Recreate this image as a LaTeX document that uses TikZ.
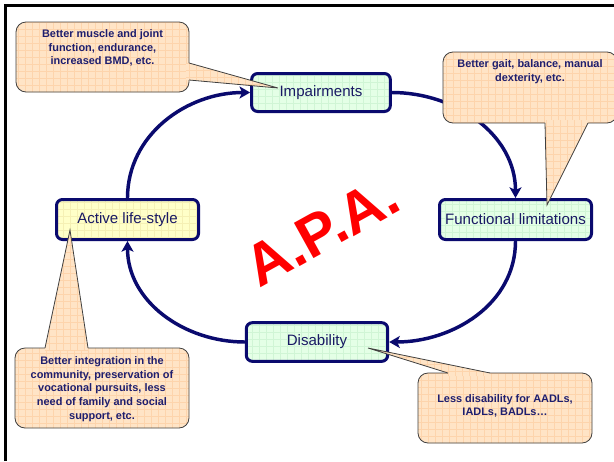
\documentclass[tikz,border=0pt]{standalone}
\usepackage{fontspec}
\setmainfont{Liberation Sans}
\usetikzlibrary{arrows.meta}

\definecolor{boxline}{RGB}{10,10,110}
\definecolor{boxtext}{RGB}{25,25,100}
\definecolor{mint}{RGB}{228,255,230}
\definecolor{mintgrid}{RGB}{208,245,213}
\definecolor{cream}{RGB}{255,255,200}
\definecolor{creamgrid}{RGB}{245,240,180}
\definecolor{peach}{RGB}{255,228,198}
\definecolor{peachgrid}{RGB}{253,212,172}
\definecolor{notetext}{RGB}{30,30,110}

\begin{document}
\begin{tikzpicture}[x=0.75pt, y=-0.75pt,
        gridfill/.style={path picture={\draw[#1, line width=0.3pt] (path picture bounding box.south west) grid[step=5.25pt] (path picture bounding box.north east);}},
        stage/.style={draw=boxline, line width=2.25pt, rounded corners=4.5pt, fill=mint, gridfill=mintgrid, text=boxtext, font=\fontsize{11.3}{13}\selectfont, inner sep=0pt},
        bubble/.style={draw=black!75, line width=0.6pt, rounded corners=7.5pt, fill=peach, gridfill=peachgrid, inner sep=0pt},
        note/.style={text=notetext, font=\fontsize{8.2}{10.3}\selectfont\bfseries, align=center, inner sep=0pt},
        flow/.style={draw=boxline, line width=2.6pt, -{Stealth[length=8pt, width=9pt, inset=2pt]}}]
    \fill[white] (0,0) rectangle (614,461);
    \useasboundingbox (0,0) rectangle (614,461);
    \draw[line width=2.2pt] (5.5,461) -- (5.5,5.5) -- (614,5.5);

    % the four stages
    \node (impairments) [stage, minimum width=104pt, minimum height=28.5pt] at (321,92.5) {Impairments};
    \node (functional) [stage, minimum width=114pt, minimum height=30pt] at (515.5,219.5) {Functional limitations};
    \node (disability) [stage, minimum width=106pt, minimum height=29pt] at (317,342) {Disability};
    \node (lifestyle) [stage, fill=cream, gridfill=creamgrid, minimum width=106.5pt, minimum height=30pt] at (127.5,219.5) {Active life-style};

    \draw[flow] (impairments.east) to[out=0, in=90] (functional.north);
    \draw[flow] (functional.south) to[out=-90, in=0] (disability.east);
    \draw[flow] (disability.west) to[out=180, in=-90] (lifestyle.south);
    \draw[flow] (lifestyle.north) to[out=90, in=180] (impairments.west);

    \node (apa) [text=red, rotate=29, font=\fontsize{44}{44}\selectfont\bfseries] at (322,231) {A.P.A.};

    % callouts
    \node (bubble_muscle) [bubble, minimum width=129.75pt, minimum height=52.5pt] at (102.5,57) {};
    \node (bubble_gait) [bubble, minimum width=130.5pt, minimum height=53.25pt] at (530,87.5) {};
    \node (bubble_social) [bubble, minimum width=130.5pt, minimum height=60pt] at (102,388) {};
    \node (bubble_adl) [bubble, minimum width=130.5pt, minimum height=52.5pt] at (505,408) {};

    \coordinate (tip_muscle) at (278,88);
    \coordinate (tip_gait) at (547,205);
    \coordinate (tip_social) at (70,230);
    \coordinate (tip_adl) at (368,348);

    \fill[peach, gridfill=peachgrid] (186,63) -- (189,63) -- (tip_muscle) -- (189,80) -- (186,80) -- cycle;
    \draw[black!75, line width=0.6pt] (189,63) -- (tip_muscle) -- (189,80);
    \fill[peach, gridfill=peachgrid] (545,120) -- (545,123) -- (tip_gait) -- (588,123) -- (588,120) -- cycle;
    \draw[black!75, line width=0.6pt] (545,123) -- (tip_gait) -- (588,123);
    \fill[peach, gridfill=peachgrid] (45,351) -- (45,348) -- (tip_social) -- (88,348) -- (88,351) -- cycle;
    \draw[black!75, line width=0.6pt] (45,348) -- (tip_social) -- (88,348);
    \fill[peach, gridfill=peachgrid] (448,376) -- (448,373) -- (tip_adl) -- (490,373) -- (490,376) -- cycle;
    \draw[black!75, line width=0.6pt] (448,373) -- (tip_adl) -- (490,373);

    \node (text_muscle) [note] at (102.5,48) {Better muscle and joint\\function, endurance,\\increased BMD, etc.};
    \node (text_gait) [note] at (530,72) {Better gait, balance, manual\\dexterity, etc.};
    \node (text_social) [note] at (102,389) {Better integration in the\\community, preservation of\\vocational pursuits, less\\need of family and social\\support, etc.};
    \node (text_adl) [note] at (505,406) {Less disability for AADLs,\\IADLs, BADLs\dots};
\end{tikzpicture}
\end{document}
